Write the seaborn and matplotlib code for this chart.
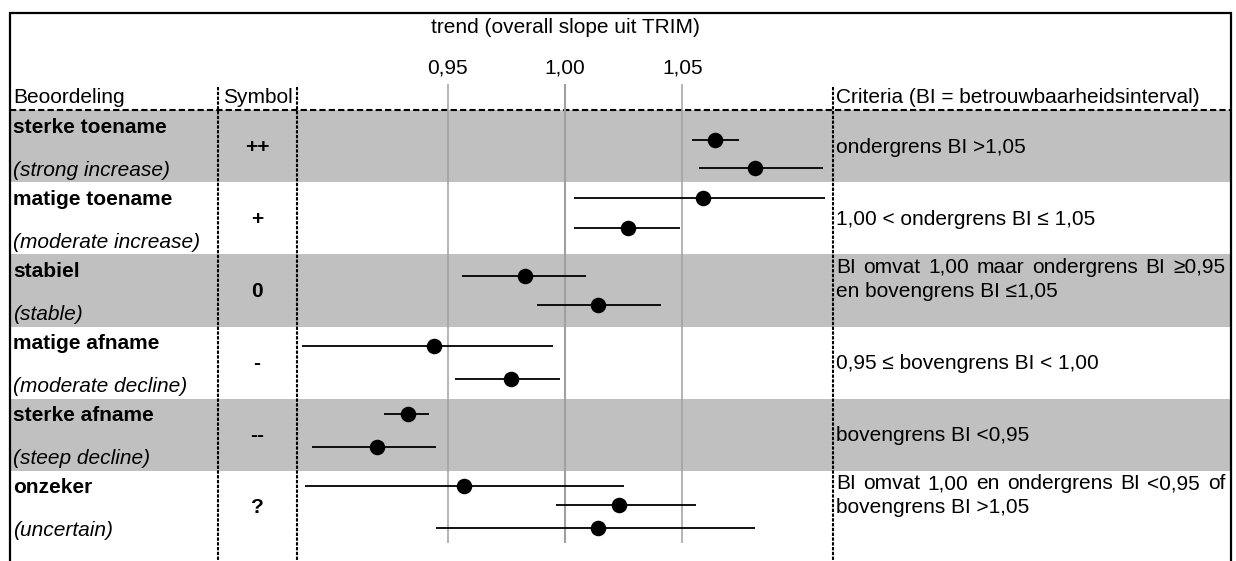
import matplotlib
matplotlib.use("Agg")
import matplotlib.pyplot as plt
from matplotlib.patches import Rectangle
import seaborn as sns
import pandas as pd

# ---------------- data ----------------
categories_nl = ["sterke toename", "matige toename", "stabiel",
                 "matige afname", "sterke afname", "onzeker"]
categories_en = ["(strong increase)", "(moderate increase)", "(stable)",
                 "(moderate decline)", "(steep decline)", "(uncertain)"]
symbols = ["++", "+", "0", "-", "--", "?"]
criteria = ["ondergrens BI >1,05",
            "1,00 < ondergrens BI \u2264 1,05",
            "BI omvat 1,00 maar ondergrens BI \u22650,95\nen bovengrens BI \u22641,05",
            "0,95 \u2264 bovengrens BI < 1,00",
            "bovengrens BI <0,95",
            "BI omvat 1,00 en ondergrens BI <0,95 of\nbovengrens BI >1,05"]
header_labels = ["Beoordeling", "Symbol", "Criteria (BI = betrouwbaarheidsinterval)"]
axis_title = "trend (overall slope uit TRIM)"

# example points: row (category) and vertical slot inside the row
point_row = [0, 0, 1, 1, 2, 2, 3, 3, 4, 4, 5, 5, 5]
point_slot = [0.41, 0.80, 0.22, 0.64, 0.30, 0.70, 0.27, 0.73, 0.21, 0.67, 0.21, 0.48, 0.79]
slope = [1.064, 1.081, 1.059, 1.027, 0.983, 1.014, 0.944, 0.977, 0.933, 0.920, 0.957, 1.023, 1.014]
ci_low = [1.054, 1.057, 1.004, 1.004, 0.956, 0.988, 0.888, 0.953, 0.923, 0.892, 0.889, 0.996, 0.945]
ci_high = [1.074, 1.110, 1.111, 1.049, 1.009, 1.041, 0.995, 0.998, 0.942, 0.945, 1.025, 1.056, 1.081]
tick_values = [0.95, 1.00, 1.05]
tick_labels = ["0,95", "1,00", "1,05"]

df = pd.DataFrame({"row": point_row, "slot": point_slot, "slope": slope,
                   "lo": ci_low, "hi": ci_high})
df["y"] = df["row"] + df["slot"]

# ---------------- style ----------------
sns.set_style("white")
plt.rcParams["font.family"] = ["Liberation Sans", "DejaVu Sans"]
plt.rcParams["text.color"] = "black"
plt.rcParams["xtick.color"] = "black"
plt.rcParams["xtick.labelcolor"] = "black"
FS = 15
W, H = 1236, 561
fig = plt.figure(figsize=(W / 100, H / 100), dpi=100)

# background / table layer in pixel coordinates
bg = fig.add_axes([0, 0, 1, 1])
bg.set_xlim(0, W)
bg.set_ylim(H, 0)
bg.axis("off")

left_x, right_x = 10, 1231
top_y = 13
rows_top, row_h = 110, 72.17
col_sym, col_plot_l, col_plot_r = 218, 297, 833
GRAY = "#c0c0c0"
crit_x, crit_right = 836, 1225
BASE = 5.5  # baseline offset below the visual centre of a text line


def justified(x0, x1, y, text):
    """Draw one line of text spread over [x0, x1] (justified, as in the original)."""
    words = text.split(" ")
    r = fig.canvas.get_renderer()
    widths = []
    for w_ in words:
        t_ = bg.text(0, 0, w_, fontsize=FS)
        bb = t_.get_window_extent(renderer=r)
        widths.append(bb.width)
        t_.remove()
    gap = (x1 - x0 - sum(widths)) / max(len(words) - 1, 1)
    xx = x0
    for w_, wd in zip(words, widths):
        bg.text(xx, y + BASE, w_, fontsize=FS, va="baseline", ha="left", color="black")
        xx += wd + gap


for i in range(len(categories_nl)):
    t = rows_top + i * row_h
    if i % 2 == 0:
        bg.add_patch(Rectangle((left_x, t), right_x - left_x, row_h,
                               facecolor=GRAY, edgecolor="none", zorder=0))
    bg.text(13, t + 17, categories_nl[i], fontsize=FS, fontweight="bold",
            va="center", ha="left", color="black")
    bg.text(13, t + 60, categories_en[i], fontsize=FS, style="italic",
            va="center", ha="left", color="black")
    bg.text(257, t + row_h / 2 + 1, symbols[i], fontsize=FS, fontweight="bold",
            va="center", ha="center", color="black")
    lines = criteria[i].split("\n")
    if len(lines) == 1:
        bg.text(crit_x, t + row_h / 2 + 1, lines[0], fontsize=FS, va="center",
                ha="left", color="black")
    else:
        for k, ln in enumerate(lines):
            if k < len(lines) - 1:
                justified(crit_x, crit_right, t + 13 + 24 * k, ln)
            else:
                bg.text(crit_x, t + 13 + 24 * k + BASE, ln, fontsize=FS,
                        va="baseline", ha="left", color="black")

# header
bg.text(13, 97, header_labels[0], fontsize=FS, va="center", ha="left", color="black")
bg.text(223, 97, header_labels[1], fontsize=FS, va="center", ha="left", color="black")
bg.text(crit_x, 97, header_labels[2], fontsize=FS, va="center", ha="left", color="black")
bg.text(565, 27, axis_title, fontsize=FS, va="center", ha="center", color="black")

# frame
bg.plot([left_x, left_x, right_x, right_x], [H, top_y, top_y, H],
        color="black", lw=1.6, solid_joinstyle="miter", zorder=5)
# dashed separators
bg.plot([left_x, right_x], [rows_top, rows_top], color="black", lw=1.5,
        linestyle=(0, (3, 1.5)), zorder=4)
for xv in (col_sym, col_plot_l, col_plot_r):
    bg.plot([xv, xv], [87, H], color="black", lw=1.5,
            linestyle=(0, (1.6, 0.7)), zorder=4)

# ---------------- plot layer ----------------
plot_top, plot_bot = 84, 543
ax = fig.add_axes([col_plot_l / W, (H - plot_bot) / H,
                   (col_plot_r - col_plot_l) / W, (plot_bot - plot_top) / H])
ax.set_zorder(3)
ax.patch.set_alpha(0)
ax.set_xlim(0.8858, 1.1142)
ax.set_ylim(6, -(rows_top - plot_top) / row_h)
for s in ax.spines.values():
    s.set_visible(False)

for v in tick_values:
    ax.axvline(v, color="#a0a0a0", lw=1.5 if abs(v - 1.0) < 1e-9 else 1.1, zorder=1)

ax.hlines(df["y"], df["lo"], df["hi"], color="black", lw=1.3, zorder=2)
sns.scatterplot(data=df, x="slope", y="y", ax=ax, color="black", s=125,
                edgecolor="black", linewidth=0, zorder=3, legend=False)

ax.xaxis.tick_top()
ax.set_xticks(tick_values)
ax.set_xticklabels(tick_labels)
ax.tick_params(axis="x", length=0, pad=4.5, labelsize=FS, labelcolor="black")
ax.set_yticks([])
ax.set_xlabel("")
ax.set_ylabel("")

fig.savefig("out.png", dpi=100)
